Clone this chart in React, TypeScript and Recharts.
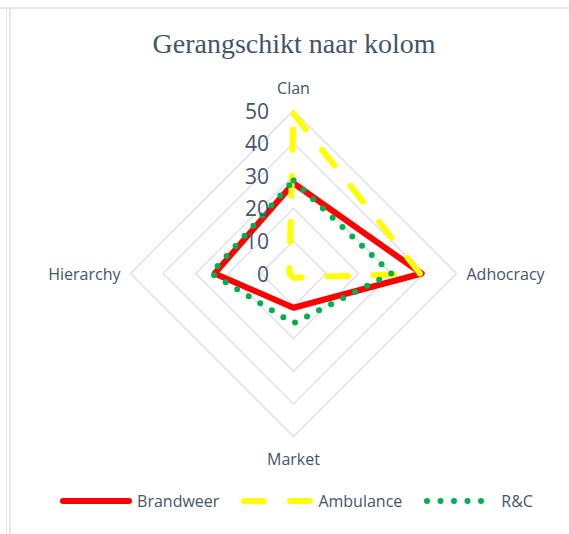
import React from "react";
import { RadarChart, Radar, PolarGrid, PolarAngleAxis, PolarRadiusAxis, Legend } from "recharts";

const CATEGORIES = ["Clan", "Adhocracy", "Market", "Hierarchy"];
const BRANDWEER = [27.7, 39.3, 10.5, 24.2];
const AMBULANCE = [49, 38.8, 1.3, 1.3];
const RC = [28.5, 30, 15.3, 25.3];
const RADIUS_TICKS = [0, 10, 20, 30, 40, 50];

const SERIES = [
    { key: "brandweer", name: "Brandweer", color: "#ff0000", dash: undefined, width: 6 },
    { key: "ambulance", name: "Ambulance", color: "#ffff00", dash: "20 26", width: 6 },
    { key: "rc", name: "R&C", color: "#00b050", dash: "0 13.5", width: 6 },
];

const data = CATEGORIES.map((subject, i) => ({
    subject,
    brandweer: BRANDWEER[i],
    ambulance: AMBULANCE[i],
    rc: RC[i],
}));

const CX = 293.5;
const CY = 273.5;
const R = 163;
const TEXT = "#44546a";
const FONT = "'Open Sans', sans-serif";

const AngleTick = (props: any) => {
    const { x, y, payload } = props;
    const dx = x - CX;
    const dy = y - CY;
    let tx = x;
    let ty = y;
    let anchor: "start" | "middle" | "end" = "middle";
    if (Math.abs(dx) > Math.abs(dy)) {
        anchor = dx > 0 ? "start" : "end";
        tx = x + Math.sign(dx) * 2;
    } else {
        ty = y + Math.sign(dy) * 14.5;
    }
    return (
        <text x={tx} y={ty} textAnchor={anchor} dominantBaseline="central" fill={TEXT} fontSize={16} fontFamily={FONT}>
            {payload.value}
        </text>
    );
};

const RadiusTick = (props: any) => {
    const { x, y, payload } = props;
    return (
        <text x={x - 24.5} y={y} textAnchor="end" dominantBaseline="central" fill={TEXT} fontSize={21} fontFamily={FONT}>
            {payload.value}
        </text>
    );
};

const LegendContent = () => (
    <div style={{ display: "flex", justifyContent: "center", alignItems: "center", gap: 22, paddingLeft: 24, fontFamily: FONT, fontSize: 16, color: TEXT }}>
        {SERIES.map((s) => (
            <div key={s.key} style={{ display: "flex", alignItems: "center" }}>
                <svg width={72} height={12}>
                    <line
                        x1={s.key === "rc" ? 3 : 3}
                        y1={6}
                        x2={s.key === "rc" ? 58 : 69}
                        y2={6}
                        stroke={s.color}
                        strokeWidth={s.width}
                        strokeDasharray={s.dash}
                        strokeLinecap="round"
                    />
                </svg>
                <span style={{ marginLeft: 5 }}>{s.name}</span>
            </div>
        ))}
    </div>
);

export default function App() {
    return (
        <div style={{ position: "absolute", left: 0, top: 0, width: 569, height: 534, background: "#fff", overflow: "hidden" }}>
            <div style={{ position: "absolute", left: 0, top: 7, width: 569, height: 1.5, background: "#e1e5ec" }} />
            <div style={{ position: "absolute", left: 5.5, top: 7, width: 1.5, height: 527, background: "#e1e5ec" }} />
            <div style={{ position: "absolute", left: 9, top: 7, width: 1.5, height: 527, background: "#e1e5ec" }} />
            <div
                style={{
                    position: "absolute",
                    left: 0,
                    top: 28,
                    width: 588,
                    textAlign: "center",
                    fontFamily: "'Liberation Serif', 'Times New Roman', serif",
                    fontSize: 28,
                    color: TEXT,
                }}
            >
                Gerangschikt naar kolom
            </div>
            <RadarChart width={569} height={534} data={data} cx={CX} cy={CY} outerRadius={R} margin={{ top: 0, right: 0, bottom: 0, left: 0 }}>
                <PolarGrid gridType="polygon" radialLines={false} stroke="#d9dee7" strokeWidth={1.3} />
                <PolarAngleAxis dataKey="subject" tickLine={false} axisLine={false} tick={AngleTick} />
                <PolarRadiusAxis angle={90} domain={[0, 50]} ticks={RADIUS_TICKS as any} tickCount={6} axisLine={false} tick={RadiusTick} />
                {SERIES.map((s) => (
                    <Radar
                        key={s.key}
                        name={s.name}
                        dataKey={s.key}
                        stroke={s.color}
                        strokeWidth={s.width}
                        strokeDasharray={s.dash}
                        strokeLinecap="round"
                        strokeLinejoin="round"
                        fill="none"
                        fillOpacity={0}
                        dot={false}
                        isAnimationActive={false}
                    />
                ))}
                <Legend content={LegendContent} wrapperStyle={{ position: "absolute", left: 0, top: 490, width: 569 }} />
            </RadarChart>
        </div>
    );
}
